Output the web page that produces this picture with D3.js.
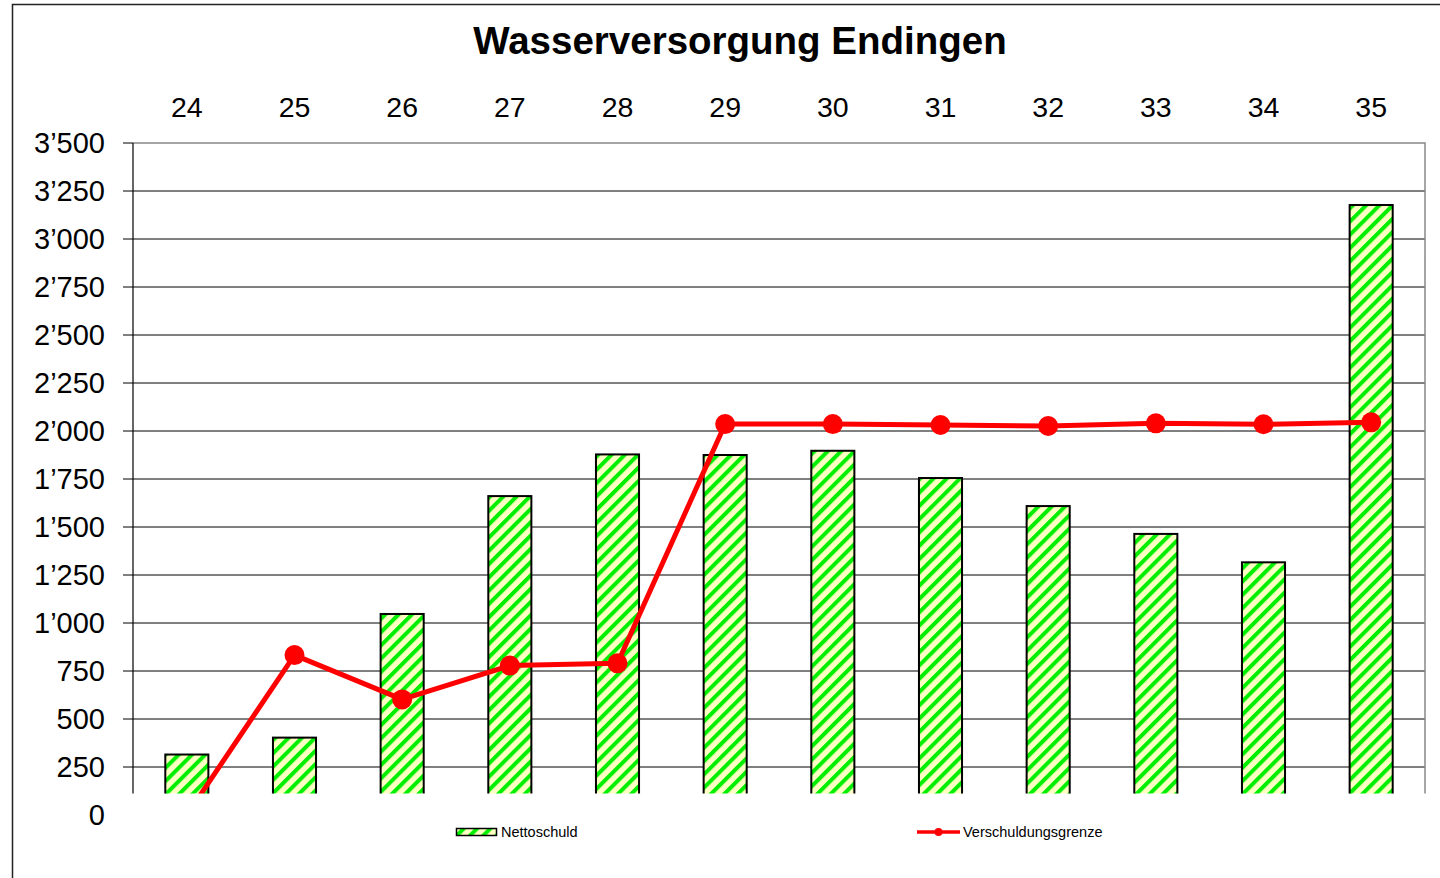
<!DOCTYPE html>
<html>
<head>
<meta charset="utf-8">
<script src="https://cdn.jsdelivr.net/npm/d3@7"></script>
<style>
  html, body { margin: 0; padding: 0; background: #fff; }
  svg { display: block; font-family: "Liberation Sans", Arial, sans-serif; }
</style>
</head>
<body>
<svg id="chart" width="1440" height="878"></svg>
<script>
const categories = ["24","25","26","27","28","29","30","31","32","33","34","35"];
const nettoschuld = [315, 403, 1047, 1661, 1878, 1875, 1897, 1755, 1609, 1464, 1316, 3177];
const verschuldungsgrenze = [0, 833, 602, 778, 790, 2036, 2036, 2031, 2026, 2040, 2035, 2045];
const yTicks = [0, 250, 500, 750, 1000, 1250, 1500, 1750, 2000, 2250, 2500, 2750, 3000, 3250, 3500];
const chartTitle = "Wasserversorgung Endingen";
const seriesNames = ["Nettoschuld", "Verschuldungsgrenze"];

const svg = d3.select("#chart");
const pL = 133, pR = 1425, pT = 143, pB = 815, clipB = 793.5;

const locale = d3.formatLocale({decimal: ".", thousands: "\u2019", grouping: [3], currency: ["", ""]});
const fmt = locale.format(",d");

const x = d3.scaleBand().domain(categories).range([pL, pR]).paddingInner(0.6).paddingOuter(0.3);
const y = d3.scaleLinear().domain([0, 3500]).range([pB, pT]);

// pattern
const defs = svg.append("defs");
const pat = defs.append("pattern").attr("id", "stripes").attr("patternUnits", "userSpaceOnUse")
  .attr("width", 9.4).attr("height", 9.4).attr("patternTransform", "rotate(45)");
pat.append("rect").attr("width", 9.4).attr("height", 9.4).attr("fill", "#ffffc4");
pat.append("rect").attr("x", 0).attr("width", 4).attr("height", 9.4).attr("fill", "#00ee00");

defs.append("clipPath").attr("id", "plotclip").append("rect")
  .attr("x", pL - 12).attr("y", pT - 15).attr("width", pR - pL + 30).attr("height", clipB - pT + 15);

// outer frame
svg.append("path").attr("d", "M12.5,878 V4.5 H1440").attr("fill", "none").attr("stroke", "#222").attr("stroke-width", 1.5);

// title
svg.append("text").attr("x", 740).attr("y", 54).attr("text-anchor", "middle")
  .attr("font-size", 38.5).attr("font-weight", "bold").text(chartTitle);

const plot = svg.append("g").attr("clip-path", "url(#plotclip)");

// gridlines
plot.append("g").selectAll("line").data(yTicks.filter(d => d > 0 && d < 3500)).join("line")
  .attr("x1", pL - 10).attr("x2", pR).attr("y1", d => y(d)).attr("y2", d => y(d))
  .attr("stroke", "#000").attr("stroke-width", 1);

// plot border top/right
plot.append("path").attr("d", `M${pL},${y(3500)} H${pR} V${pB}`).attr("fill", "none")
  .attr("stroke", "#888").attr("stroke-width", 1.5);
plot.append("line").attr("x1", pL - 10).attr("x2", pL).attr("y1", y(3500)).attr("y2", y(3500)).attr("stroke", "#000");

// bars
plot.append("g").selectAll("rect").data(nettoschuld).join("rect")
  .attr("x", (d, i) => x(categories[i]))
  .attr("y", d => y(d))
  .attr("width", x.bandwidth())
  .attr("height", d => y(0) - y(d))
  .attr("fill", "url(#stripes)")
  .attr("stroke", "#000").attr("stroke-width", 2);

// left axis line
plot.append("line").attr("x1", pL).attr("x2", pL).attr("y1", pT).attr("y2", pB).attr("stroke", "#000").attr("stroke-width", 1.2);

// line
const cx = i => x(categories[i]) + x.bandwidth() / 2;
const line = d3.line().x((d, i) => cx(i)).y(d => y(d));
plot.append("path").datum(verschuldungsgrenze).attr("d", line)
  .attr("fill", "none").attr("stroke", "#ff0000").attr("stroke-width", 5).attr("stroke-linejoin", "round");
plot.append("g").selectAll("circle").data(verschuldungsgrenze).join("circle")
  .attr("cx", (d, i) => cx(i)).attr("cy", d => y(d)).attr("r", 10).attr("fill", "#ff0000");

// y labels
svg.append("g").selectAll("text").data(yTicks).join("text")
  .attr("x", 105).attr("y", d => y(d) + 10).attr("text-anchor", "end")
  .attr("font-size", 29).text(d => fmt(d));

// top category labels
svg.append("g").selectAll("text").data(categories).join("text")
  .attr("x", d => x(d) + x.bandwidth() / 2).attr("y", 117).attr("text-anchor", "middle")
  .attr("font-size", 28.5).text(d => d);

// legend
const lg = svg.append("g");
lg.append("rect").attr("x", 456.5).attr("y", 828.5).attr("width", 40).attr("height", 7)
  .attr("fill", "url(#stripes)").attr("stroke", "#000").attr("stroke-width", 1.5);
lg.append("text").attr("x", 501).attr("y", 837).attr("font-size", 14.5).text(seriesNames[0]);
lg.append("line").attr("x1", 917).attr("x2", 960).attr("y1", 832).attr("y2", 832)
  .attr("stroke", "#ff0000").attr("stroke-width", 3.5);
lg.append("circle").attr("cx", 938.5).attr("cy", 832).attr("r", 4).attr("fill", "#ff0000");
lg.append("text").attr("x", 963).attr("y", 837).attr("font-size", 14.5).text(seriesNames[1]);
</script>
</body>
</html>
